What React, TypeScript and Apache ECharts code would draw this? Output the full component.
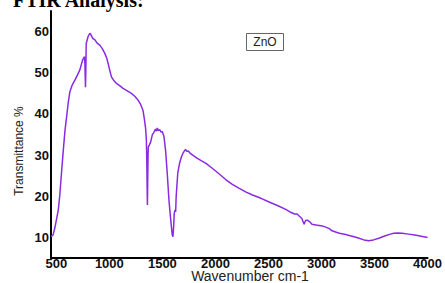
import React, { useEffect, useRef } from "react";
import * as echarts from "echarts";

const wavenumber = [
  450, 470, 487, 505, 519, 532, 544, 556, 566, 582, 597, 612, 628, 650, 675, 700, 722, 748, 766, 770,
  775, 778, 782, 800, 816, 823, 845, 864, 885, 910, 935, 957, 975, 988, 1005, 1020, 1040, 1067, 1100, 1129,
  1170, 1208, 1240, 1270, 1295, 1317, 1330, 1342, 1349, 1353, 1356, 1359, 1362, 1365, 1368, 1380, 1390, 1405, 1420, 1435,
  1445, 1452, 1462, 1475, 1488, 1499, 1515, 1530, 1546, 1562, 1578, 1593, 1600, 1606, 1612, 1620, 1625, 1630, 1645, 1662,
  1680, 1693, 1705, 1718, 1730, 1745, 1760, 1786, 1830, 1870, 1911, 1970, 2037, 2100, 2160, 2225, 2290, 2350, 2430, 2507,
  2590, 2663, 2710, 2745, 2770, 2790, 2815, 2836, 2850, 2867, 2890, 2910, 2950, 3007, 3040, 3070, 3100, 3133, 3170, 3227,
  3289, 3340, 3400, 3446, 3490, 3540, 3602, 3650, 3681, 3720, 3760, 3822, 3880, 3940, 4000,
];

const transmittance = [
  10.2, 10.6, 12.4, 14.8, 16.7, 20, 24, 28, 31.2, 36, 39.3, 42.6, 45.4, 47, 48.2, 49.5, 50.7, 53.1, 53.9, 52,
  46.5, 50, 57.1, 58.8, 59.6, 59.4, 58.3, 58, 57.2, 56.7, 55.8, 54.7, 53.6, 52.3, 50.5, 49, 48.2, 47.4, 46.8, 46.2,
  45.6, 45, 44.3, 43.4, 42.3, 40.9, 38.8, 36.5, 33.7, 29, 23, 17.9, 24, 30, 32, 32.6, 33.2, 34.9, 35.5, 36.3,
  35.8, 36.6, 35.9, 36.2, 35.6, 35.7, 34.5, 31.2, 25.6, 19.1, 14.5, 10.6, 10.2, 12.5, 15.9, 16.7, 16.2, 19.9, 25.6, 28,
  29.6, 30.4, 30.9, 31.4, 30.9, 31, 30.5, 30, 29.2, 28.6, 28, 26.8, 25.4, 24, 22.9, 21.9, 21, 20.3, 19.5, 18.6,
  17.7, 16.8, 16.1, 15.7, 15.7, 15.2, 14.6, 13.2, 14.1, 14.2, 13.8, 13.2, 13, 12.8, 12.5, 12.2, 11.6, 11.3, 11, 10.7,
  10.3, 9.9, 9.4, 9.2, 9.4, 9.8, 10.4, 10.8, 11, 11.1, 11, 10.8, 10.6, 10.3, 10,
];

const xTicks = [500, 1000, 1500, 2000, 2500, 3000, 3500, 4000];
const yTicks = [10, 20, 30, 40, 50, 60];

const pageTitle = "FTIR Analysis:";
const sampleLabel = "ZnO";
const xName = "Wavenumber cm-1";
const yName = "Transmittance %";

export default function App() {
  const ref = useRef<HTMLDivElement>(null);

  useEffect(() => {
    if (!ref.current) return;
    const chart = echarts.init(ref.current, null, { renderer: "svg" });
    const data = wavenumber.map((w, i) => [w, transmittance[i]]);
    const labelStyle = {
      color: "#111",
      fontFamily: "Liberation Sans, Arial, sans-serif",
      fontWeight: "bold" as const,
      fontSize: 13,
      formatter: (v: number) => String(v),
    };
    chart.setOption({
      animation: false,
      backgroundColor: "#fff",
      grid: { left: 51, top: 11, right: 16, bottom: 25, containLabel: false },
      xAxis: {
        type: "value",
        min: 450,
        max: 4000,
        axisLine: { show: true, lineStyle: { color: "#000", width: 2 } },
        axisTick: { show: false },
        splitLine: { show: false },
        axisLabel: { ...labelStyle, margin: -1, customValues: xTicks, showMinLabel: true, showMaxLabel: true },
      },
      yAxis: {
        type: "value",
        min: 5,
        max: 65,
        axisLine: { show: true, lineStyle: { color: "#000", width: 2 } },
        axisTick: { show: false },
        splitLine: { show: false },
        axisLabel: { ...labelStyle, margin: 2, customValues: yTicks },
      },
      series: [
        {
          type: "line",
          data,
          showSymbol: false,
          lineStyle: { color: "#8a2be2", width: 1.5 },
          itemStyle: { color: "#8a2be2" },
        },
      ],
      graphic: [
        {
          type: "text",
          x: 13,
          y: 0,
          style: {
            text: pageTitle,
            font: "bold 20px 'Liberation Serif', serif",
            fill: "#000",
            verticalAlign: "middle",
            align: "left",
          },
        },
        {
          type: "rect",
          shape: { x: 246.5, y: 33.5, width: 37, height: 17 },
          style: { fill: "#fff", stroke: "#666", lineWidth: 1 },
        },
        {
          type: "text",
          x: 265,
          y: 42,
          style: {
            text: sampleLabel,
            font: "12px 'Liberation Sans', Arial, sans-serif",
            fill: "#222",
            align: "center",
            verticalAlign: "middle",
          },
        },
        {
          type: "text",
          x: 250,
          y: 276,
          style: {
            text: xName,
            font: "14px 'Liberation Sans', Arial, sans-serif",
            fill: "#222",
            align: "center",
            verticalAlign: "middle",
          },
        },
        {
          type: "text",
          x: 19,
          y: 151,
          rotation: Math.PI / 2,
          style: {
            text: yName,
            font: "12px 'Liberation Sans', Arial, sans-serif",
            fill: "#222",
            align: "center",
            verticalAlign: "middle",
          },
        },
      ],
    });
    return () => chart.dispose();
  }, []);

  return (
    <div
      ref={ref}
      style={{ position: "fixed", left: 0, top: 0, width: 445, height: 283 }}
    />
  );
}
